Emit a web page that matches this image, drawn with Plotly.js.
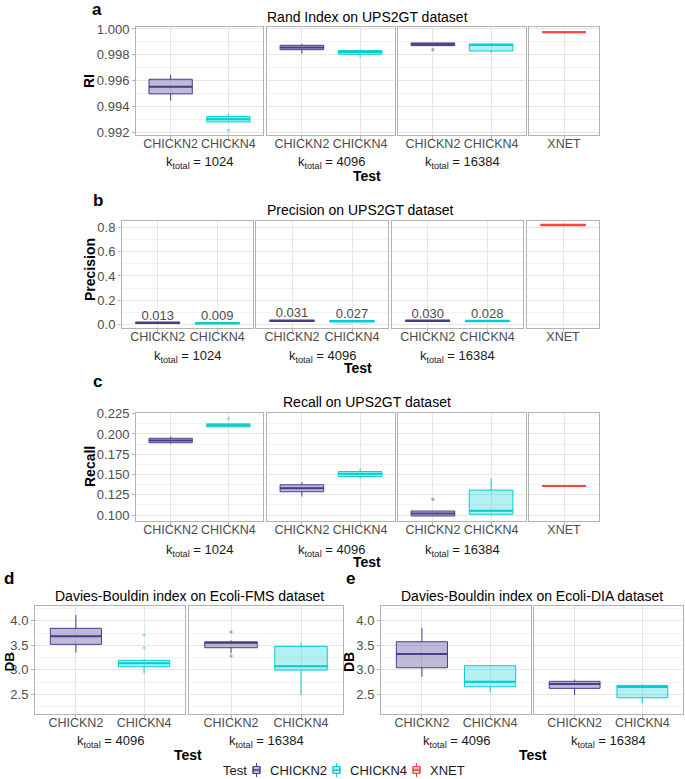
<!DOCTYPE html>
<html>
<head>
<meta charset="utf-8">
<script src="https://cdn.plot.ly/plotly-3.0.1.min.js"></script>
<style>html,body{margin:0;padding:0;background:#fff;}#chart{width:685px;height:779px;}</style>
</head>
<body>
<div id="chart"></div>
<script>
// ---------------- DATA ----------------
const tests = ['CHICKN2', 'CHICKN4', 'XNET'];
const kTotals = ['1024', '4096', '16384'];
const dbKTotals = ['4096', '16384'];

// box stats: [lowerfence, q1, median, q3, upperfence] per k_total
const riCHICKN2 = [[0.99447, 0.99499, 0.99555, 0.99612, 0.99645],
                   [0.99810, 0.99840, 0.99856, 0.99874, 0.99884],
                   [0.99871, 0.99871, 0.99882, 0.99892, 0.99892]];
const riCHICKN4 = [[0.99283, 0.99283, 0.99304, 0.99324, 0.99347],
                   [0.99779, 0.99805, 0.99823, 0.99833, 0.99840],
                   [0.99813, 0.99830, 0.99877, 0.99884, 0.99890]];
const riXNET = [0.99975, 0.99975, 0.99975, 0.99975, 0.99975];
const riOutCHICKN2 = [[], [], [0.99840]];
const riOutCHICKN4 = [[0.99216], [], []];

const precCHICKN2 = [0.013, 0.031, 0.030];
const precCHICKN4 = [0.009, 0.027, 0.028];
const precXNET = 0.821;

const recCHICKN2 = [[0.1880, 0.1892, 0.1920, 0.1947, 0.1970],
                    [0.1229, 0.1287, 0.1331, 0.1373, 0.1405],
                    [0.0988, 0.0988, 0.1018, 0.1049, 0.1049]];
const recCHICKN4 = [[0.2088, 0.2088, 0.2109, 0.2125, 0.2125],
                    [0.1447, 0.1475, 0.1508, 0.1537, 0.1570],
                    [0.0988, 0.1009, 0.1053, 0.1308, 0.1451]];
const recXNET = [0.1357, 0.1357, 0.1357, 0.1357, 0.1357];
const recOutCHICKN2 = [[], [], [0.1193]];
const recOutCHICKN4 = [[0.2189], [], []];

const dbFmsCHICKN2 = [[3.348, 3.519, 3.682, 3.845, 4.116],
                      [3.34, 3.45, 3.55, 3.57, 3.60]];
const dbFmsCHICKN4 = [[2.928, 3.063, 3.132, 3.193, 3.22],
                      [2.486, 2.995, 3.071, 3.478, 3.56]];
const dbFmsOutCHICKN2 = [[], [3.77, 3.28]];
const dbFmsOutCHICKN4 = [[3.709, 3.450], []];

const dbDiaCHICKN2 = [[2.859, 3.042, 3.321, 3.572, 3.857],
                      [2.486, 2.622, 2.710, 2.765, 2.80]];
const dbDiaCHICKN4 = [[2.54, 2.655, 2.757, 3.083, 3.083],
                      [2.317, 2.431, 2.649, 2.683, 2.70]];

// ---------------- STYLE ----------------
const W = 685, H = 779;
const FONT = 'Liberation Sans, Arial, Helvetica, sans-serif';
const colors = {CHICKN2: '#483D8B', CHICKN4: '#00CED1', XNET: '#FF4040'};
const fills = {CHICKN2: 'rgba(72,61,139,0.35)', CHICKN4: 'rgba(0,206,209,0.30)', XNET: 'rgba(255,64,64,0.30)'};
function dx(p) { return p / W; }
function dy(p) { return 1 - p / H; }

const rowAxes = {
  a: {range: [0.99182, 1.00015], tick0: 0.992, dtick: 0.002, fmt: '.3f', minor: 0.001},
  b: {range: [-0.0296, 0.854], tick0: 0, dtick: 0.2, fmt: '.1f', minor: 0.1},
  c: {range: [0.0926, 0.2259], tick0: 0.1, dtick: 0.025, fmt: '.3f', minor: 0.0125},
  d: {range: [2.10, 4.30], tick0: 2.5, dtick: 0.5, fmt: '.1f', minor: 0.25},
  e: {range: [2.10, 4.30], tick0: 2.5, dtick: 0.5, fmt: '.1f', minor: 0.25}
};

const panels = [
  {row: 'a', px: [136, 263], py: [27, 135], cats: ['CHICKN2', 'CHICKN4'], k: 0, first: true},
  {row: 'a', px: [267, 395], py: [27, 135], cats: ['CHICKN2', 'CHICKN4'], k: 1},
  {row: 'a', px: [398, 526], py: [27, 135], cats: ['CHICKN2', 'CHICKN4'], k: 2},
  {row: 'a', px: [529, 599], py: [27, 135], cats: ['XNET'], k: -1},
  {row: 'b', px: [122, 253], py: [221, 328], cats: ['CHICKN2', 'CHICKN4'], k: 0, first: true},
  {row: 'b', px: [256, 388], py: [221, 328], cats: ['CHICKN2', 'CHICKN4'], k: 1},
  {row: 'b', px: [392, 523], py: [221, 328], cats: ['CHICKN2', 'CHICKN4'], k: 2},
  {row: 'b', px: [527, 599], py: [221, 328], cats: ['XNET'], k: -1},
  {row: 'c', px: [136, 263], py: [413, 521], cats: ['CHICKN2', 'CHICKN4'], k: 0, first: true},
  {row: 'c', px: [267, 395], py: [413, 521], cats: ['CHICKN2', 'CHICKN4'], k: 1},
  {row: 'c', px: [398, 526], py: [413, 521], cats: ['CHICKN2', 'CHICKN4'], k: 2},
  {row: 'c', px: [529, 599], py: [413, 521], cats: ['XNET'], k: -1},
  {row: 'd', px: [35, 185], py: [606, 714], cats: ['CHICKN2', 'CHICKN4'], k: 0, first: true, db: true},
  {row: 'd', px: [189, 343], py: [606, 714], cats: ['CHICKN2', 'CHICKN4'], k: 1, db: true},
  {row: 'e', px: [381, 531], py: [606, 714], cats: ['CHICKN2', 'CHICKN4'], k: 0, first: true, db: true},
  {row: 'e', px: [534, 683], py: [606, 714], cats: ['CHICKN2', 'CHICKN4'], k: 1, db: true}
];

const layout = {
  width: W, height: H,
  margin: {l: 0, r: 0, t: 0, b: 0},
  paper_bgcolor: '#fff', plot_bgcolor: '#fff',
  font: {family: FONT, size: 13, color: '#4D4D4D'},
  showlegend: false,
  annotations: [], shapes: []
};
const traces = [];

panels.forEach((p, idx) => {
  const i = idx + 1;
  const xk = 'xaxis' + (i === 1 ? '' : i), yk = 'yaxis' + (i === 1 ? '' : i);
  const xa = 'x' + i, ya = 'y' + i;
  const ra = rowAxes[p.row];
  layout[xk] = {
    domain: [dx(p.px[0]), dx(p.px[1])], anchor: ya,
    type: 'category', categoryorder: 'array', categoryarray: p.cats,
    range: [-0.6, p.cats.length - 0.4], autorange: false,
    showgrid: true, gridcolor: '#E6E6E6', gridwidth: 1, zeroline: false,
    showline: true, mirror: true, linecolor: '#B3B3B3', linewidth: 1,
    ticks: 'outside', ticklen: 3, tickcolor: '#B3B3B3', tickangle: 0,
    ticklabelstandoff: -6,
    tickfont: {size: 12.5, color: '#4D4D4D'}, fixedrange: true
  };
  layout[yk] = {
    domain: [dy(p.py[1]), dy(p.py[0])], anchor: xa,
    range: ra.range, autorange: false, tickmode: 'linear', tick0: ra.tick0, dtick: ra.dtick,
    tickformat: ra.fmt, showticklabels: !!p.first,
    showgrid: true, gridcolor: '#E6E6E6', gridwidth: 1, zeroline: false,
    showline: true, mirror: true, linecolor: '#B3B3B3', linewidth: 1,
    ticks: p.first ? 'outside' : '', ticklen: 3, tickcolor: '#B3B3B3',
    tickfont: {size: 13, color: '#4D4D4D'}, fixedrange: true,
    minor: {tick0: ra.tick0, dtick: ra.minor, showgrid: true, gridcolor: '#F3F3F3', gridwidth: 1, ticks: ''}
  };

  function addBox(test, s, medW) {
    traces.push({
      type: 'box', orientation: 'v', xaxis: xa, yaxis: ya, x: [test],
      lowerfence: [s[0]], q1: [s[1]], median: [s[2]], q3: [s[3]], upperfence: [s[4]],
      width: 0.75, whiskerwidth: 0, boxpoints: false, line: {color: colors[test], width: 1},
      fillcolor: fills[test], name: test, showlegend: false, hoverinfo: 'skip'
    });
    traces.push({
      type: 'box', orientation: 'v', xaxis: xa, yaxis: ya, x: [test],
      lowerfence: [s[2]], q1: [s[2]], median: [s[2]], q3: [s[2]], upperfence: [s[2]],
      width: 0.75, whiskerwidth: 0, boxpoints: false, line: {color: colors[test], width: medW || 2},
      fillcolor: 'rgba(0,0,0,0)', name: test, showlegend: false, hoverinfo: 'skip'
    });
  }
  function addOut(test, vals) {
    if (!vals || !vals.length) return;
    traces.push({
      type: 'scatter', mode: 'markers', xaxis: xa, yaxis: ya,
      x: vals.map(() => test), y: vals,
      marker: {color: colors[test], size: 3.5, opacity: 0.4},
      showlegend: false, hoverinfo: 'skip'
    });
  }
  function flat(v) { return [v, v, v, v, v]; }

  if (p.row === 'a') {
    if (p.k < 0) addBox('XNET', riXNET);
    else {
      addBox('CHICKN2', riCHICKN2[p.k]); addBox('CHICKN4', riCHICKN4[p.k]);
      addOut('CHICKN2', riOutCHICKN2[p.k]); addOut('CHICKN4', riOutCHICKN4[p.k]);
    }
  } else if (p.row === 'b') {
    if (p.k < 0) addBox('XNET', flat(precXNET), 2.5);
    else {
      addBox('CHICKN2', flat(precCHICKN2[p.k]), 2.5); addBox('CHICKN4', flat(precCHICKN4[p.k]), 2.5);
      traces.push({
        type: 'scatter', mode: 'text', xaxis: xa, yaxis: ya,
        x: ['CHICKN2', 'CHICKN4'], y: [precCHICKN2[p.k], precCHICKN4[p.k]],
        text: [precCHICKN2[p.k].toFixed(3), precCHICKN4[p.k].toFixed(3)],
        textposition: 'top center', textfont: {size: 13, color: '#4D4D4D', family: FONT},
        showlegend: false, hoverinfo: 'skip', cliponaxis: false
      });
    }
  } else if (p.row === 'c') {
    if (p.k < 0) addBox('XNET', recXNET);
    else {
      addBox('CHICKN2', recCHICKN2[p.k]); addBox('CHICKN4', recCHICKN4[p.k]);
      addOut('CHICKN2', recOutCHICKN2[p.k]); addOut('CHICKN4', recOutCHICKN4[p.k]);
    }
  } else if (p.row === 'd') {
    addBox('CHICKN2', dbFmsCHICKN2[p.k]); addBox('CHICKN4', dbFmsCHICKN4[p.k]);
    addOut('CHICKN2', dbFmsOutCHICKN2[p.k]); addOut('CHICKN4', dbFmsOutCHICKN4[p.k]);
  } else {
    addBox('CHICKN2', dbDiaCHICKN2[p.k]); addBox('CHICKN4', dbDiaCHICKN4[p.k]);
  }

  // k_total strip label below tick labels
  if (p.k >= 0) {
    const kv = p.db ? dbKTotals[p.k] : kTotals[p.k];
    const ky = {a: 162, b: 356, c: 550, d: 741, e: 741}[p.row];
    layout.annotations.push({
      xref: 'paper', yref: 'paper', x: dx((p.px[0] + p.px[1]) / 2), y: dy(ky),
      xanchor: 'center', yanchor: 'middle', showarrow: false,
      text: 'k<sub>total</sub> = ' + kv, font: {size: 13, color: '#1A1A1A', family: FONT}
    });
  }
});

// titles, letters, axis titles
function ann(text, x, y, opts) {
  layout.annotations.push(Object.assign({
    xref: 'paper', yref: 'paper', x: dx(x), y: dy(y), xanchor: 'center', yanchor: 'middle',
    showarrow: false, text: text, font: {size: 14, color: '#000', family: FONT}
  }, opts || {}));
}
ann('Rand Index on UPS2GT dataset', 367, 17);
ann('Precision on UPS2GT dataset', 360, 210);
ann('Recall on UPS2GT dataset', 367, 402);
ann('Davies-Bouldin index on Ecoli-FMS dataset', 189, 596);
ann('Davies-Bouldin index on Ecoli-DIA dataset', 532, 596);

const bold = {size: 14, color: '#000', family: FONT};
ann('<b>Test</b>', 367, 176, {font: bold});
ann('<b>Test</b>', 358, 368, {font: bold});
ann('<b>Test</b>', 367, 562, {font: bold});
ann('<b>Test</b>', 188, 755, {font: bold});
ann('<b>Test</b>', 533, 755, {font: bold});

ann('<b>RI</b>', 89, 81, {font: bold, textangle: -90});
ann('<b>Precision</b>', 90, 270, {font: bold, textangle: -90});
ann('<b>Recall</b>', 90, 467, {font: bold, textangle: -90});
ann('<b>DB</b>', 8.5, 662, {font: {size: 13.5, color: '#000', family: FONT}, textangle: -90});
ann('<b>DB</b>', 349, 662, {font: bold, textangle: -90});

const letterFont = {size: 17, color: '#000', family: FONT};
ann('<b>a</b>', 97, 10, {font: letterFont});
ann('<b>b</b>', 98, 200, {font: letterFont});
ann('<b>c</b>', 97, 382, {font: letterFont});
ann('<b>d</b>', 9, 578, {font: letterFont});
ann('<b>e</b>', 350, 578, {font: letterFont});

// ---------------- legend (bottom) ----------------
const LEGY = 770;
const legFont = {size: 13, color: '#1A1A1A', family: FONT};
ann('Test', 235, LEGY, {font: legFont});
const legendItems = [
  {test: 'CHICKN2', icon: 256.5, text: 268},
  {test: 'CHICKN4', icon: 336.5, text: 348},
  {test: 'XNET', icon: 416.5, text: 428}
];
legendItems.forEach(it => {
  layout.shapes.push({type: 'line', xref: 'paper', yref: 'paper',
    x0: dx(it.icon), x1: dx(it.icon), y0: dy(LEGY - 7), y1: dy(LEGY + 7),
    line: {color: colors[it.test], width: 1}});
  layout.shapes.push({type: 'rect', xref: 'paper', yref: 'paper',
    x0: dx(it.icon - 3.5), x1: dx(it.icon + 3.5), y0: dy(LEGY - 3.5), y1: dy(LEGY + 3.5),
    line: {color: colors[it.test], width: 1}, fillcolor: 'rgb(255,255,255)'});
  layout.shapes.push({type: 'rect', xref: 'paper', yref: 'paper',
    x0: dx(it.icon - 3.5), x1: dx(it.icon + 3.5), y0: dy(LEGY - 3.5), y1: dy(LEGY + 3.5),
    line: {color: colors[it.test], width: 1}, fillcolor: fills[it.test]});
  layout.shapes.push({type: 'line', xref: 'paper', yref: 'paper',
    x0: dx(it.icon - 3.5), x1: dx(it.icon + 3.5), y0: dy(LEGY), y1: dy(LEGY),
    line: {color: colors[it.test], width: 1.5}});
  ann(it.test, it.text, LEGY, {font: legFont, xanchor: 'left'});
});

Plotly.newPlot('chart', traces, layout, {staticPlot: true, displayModeBar: false});
</script>
</body>
</html>
